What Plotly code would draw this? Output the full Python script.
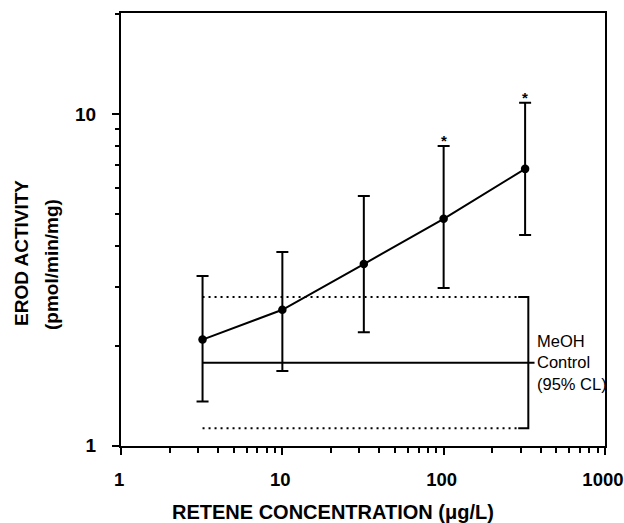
import plotly.graph_objects as go
import math

# ---- data ----
conc = [3.2, 10, 32, 100, 320]
erod = [2.09, 2.57, 3.53, 4.83, 6.83]
upper = [3.25, 3.84, 5.66, 8.0, 10.8]
lower = [1.36, 1.68, 2.2, 2.99, 4.32]
sig = ["", "", "", "*", "*"]

control_mean = 1.78
control_upper = 2.81
control_lower = 1.13
control_x = [3.2, 290]
bracket_x = 335
label_x = 366

x_ticks = [1, 10, 100, 1000]
x_ticklabels = ["1", "10", "100", "1000"]
y_ticks = [1, 10]
y_ticklabels = ["1", "10"]

FONT = "Liberation Sans, Arial, sans-serif"

fig = go.Figure()

# control dotted bounds
for yv in [control_upper, control_lower]:
    fig.add_trace(go.Scatter(x=control_x, y=[yv, yv], mode="lines",
                             line=dict(color="black", width=2, dash="2px,4px"),
                             hoverinfo="skip", showlegend=False))
# bracket
fig.add_trace(go.Scatter(x=[control_x[1], bracket_x, bracket_x, control_x[1]],
                         y=[control_upper, control_upper, control_lower, control_lower],
                         mode="lines", line=dict(color="black", width=2),
                         hoverinfo="skip", showlegend=False))
# control mean solid line
fig.add_trace(go.Scatter(x=[control_x[0], label_x], y=[control_mean, control_mean],
                         mode="lines", line=dict(color="black", width=2),
                         hoverinfo="skip", showlegend=False))

# data with error bars
fig.add_trace(go.Scatter(
    x=conc, y=erod, mode="lines+markers",
    line=dict(color="black", width=2),
    marker=dict(color="black", size=8.5),
    error_y=dict(type="data", symmetric=False,
                 array=[u - v for u, v in zip(upper, erod)],
                 arrayminus=[v - l for v, l in zip(erod, lower)],
                 color="black", thickness=2, width=6),
    showlegend=False))

# significance asterisks
for xv, yv, s in zip(conc, upper, sig):
    if s:
        fig.add_annotation(x=math.log10(xv), y=math.log10(yv), xref="x", yref="y",
                           text=s, showarrow=False, xanchor="center", yanchor="bottom",
                           yshift=-5,
                           font=dict(family=FONT, size=15, color="black", weight="bold"))

fig.add_annotation(x=math.log10(label_x), y=math.log10(control_mean), xref="x", yref="y",
                   text="MeOH<br>Control<br>(95% CL)", showarrow=False,
                   xanchor="left", yanchor="middle", align="left",
                   font=dict(family=FONT, size=16.5, color="black"))

# axis titles as annotations
fig.add_annotation(x=(22 - 121) / 484, y=(446 - 253) / 433, xref="paper", yref="paper",
                   text="EROD ACTIVITY", textangle=-90, showarrow=False,
                   xanchor="center", yanchor="middle",
                   font=dict(family=FONT, size=19, color="black", weight="bold"))
fig.add_annotation(x=(51 - 121) / 484, y=(446 - 265) / 433, xref="paper", yref="paper",
                   text="(pmol/min/mg)", textangle=-90, showarrow=False,
                   xanchor="center", yanchor="middle",
                   font=dict(family=FONT, size=19, color="black", weight="bold"))
fig.add_annotation(x=(333 - 121) / 484, y=-(512 - 446) / 433, xref="paper", yref="paper",
                   text="RETENE CONCENTRATION (μg/L)", showarrow=False,
                   xanchor="center", yanchor="middle",
                   font=dict(family=FONT, size=20, color="black", weight="bold"))

axis_common = dict(showgrid=False, zeroline=False, showline=True, linecolor="black",
                   linewidth=2, mirror=True, ticks="outside", ticklen=7, tickwidth=2,
                   tickcolor="black", automargin=False)

fig.update_xaxes(type="log", range=[-0.0005, 3.0005], tickvals=x_ticks, ticktext=x_ticklabels,
                 tickfont=dict(family=FONT, size=18.5, color="black", weight="bold"),
                 ticklabelstandoff=9, ticklabeloverflow="allow", ticklabelshift=-2,
                 minor=dict(ticks="outside", ticklen=5, tickwidth=1.5, tickcolor="black",
                            dtick="D1", showgrid=False),
                 **axis_common)
fig.update_yaxes(type="log", range=[-0.0005, 1.304], tickvals=y_ticks, ticktext=y_ticklabels,
                 tickfont=dict(family=FONT, size=19, color="black", weight="bold"),
                 ticklabelstandoff=12, ticklabeloverflow="allow",
                 minor=dict(ticks="outside", ticklen=4, tickwidth=1.5, tickcolor="black",
                            dtick="D1", showgrid=False),
                 **axis_common)

fig.update_layout(width=624, height=523,
                  margin=dict(l=121, r=19, t=13, b=77, autoexpand=False),
                  plot_bgcolor="white", paper_bgcolor="white",
                  showlegend=False)

fig.write_html("out.html")
